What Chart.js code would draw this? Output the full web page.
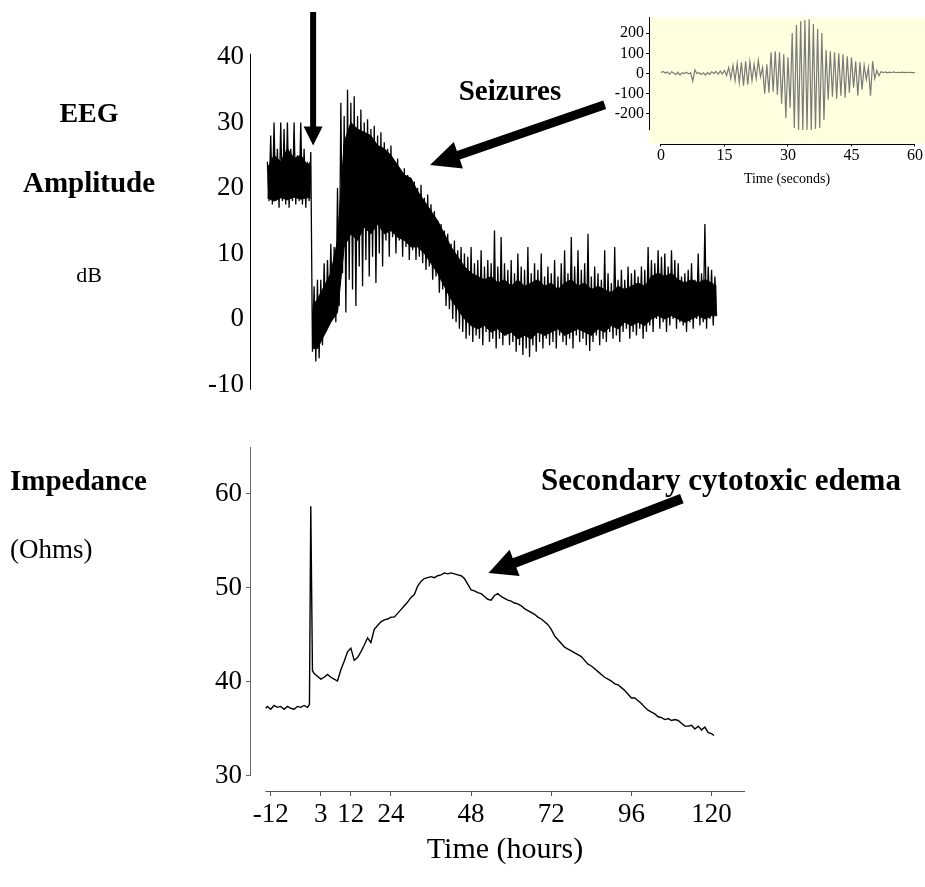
<!DOCTYPE html>
<html>
<head>
<meta charset="utf-8">
<script src="https://cdn.jsdelivr.net/npm/chart.js@4.4.0/dist/chart.umd.min.js"></script>
<style>
  html, body { margin: 0; padding: 0; background: #fff; }
  #wrap { position: relative; width: 925px; height: 887px; overflow: hidden; }
  .box { position: absolute; }
  #eegBox { left: 0; top: 0; width: 925px; height: 420px; }
  #impBox { left: 0; top: 420px; width: 925px; height: 467px; }
  #insetBox { left: 590px; top: 0; width: 335px; height: 200px; }
</style>
</head>
<body>
<div id="wrap">
  <div class="box" id="eegBox"><canvas id="eegChart"></canvas></div>
  <div class="box" id="impBox"><canvas id="impChart"></canvas></div>
  <div class="box" id="insetBox"><canvas id="insetChart"></canvas></div>
</div>
<script>
// ===============================
// Data
// ===============================
const hourTicks = [-12, 3, 12, 24, 48, 72, 96, 120];
const eegTicks = [-10, 0, 10, 20, 30, 40];
const impTicks = [30, 40, 50, 60];
const secTicks = [0, 15, 30, 45, 60];
const uvTicks = [-200, -100, 0, 100, 200];

// EEG amplitude (dB): spike tips above and below, one pair per hour from -13 h
const EEG_START = -13;
const INJECTION_HOUR = 0;
const eegHigh = [
  24, 28, 30, 26, 30, 29, 30, 26, 30, 25,
  30, 26, 24, 25.5, 5, 6, 6, 8.5, 9, 11.5,
  11, 20, 33, 31, 35, 33, 34, 31, 32, 30,
  30.5, 29, 29.5, 28, 28.5, 27, 26, 26.5, 24, 24.5,
  22.5, 23, 22, 21.5, 21, 20, 20.5, 18.5, 19, 17.5,
  16.5, 15, 14.5, 13.5, 13, 11.5, 12, 10.5, 11, 10,
  9.5, 11, 8.5, 9, 10.5, 8, 9, 8.5, 13.5, 8,
  12.5, 8.5, 7.5, 9, 7, 10, 8, 7.5, 11, 7,
  8.5, 7.5, 10, 6.5, 8, 7, 9, 6.5, 8.5, 10.5,
  7, 12.5, 8, 10.5, 7.5, 8.5, 13, 6.5, 8, 7,
  6, 10.5, 7, 5.5, 11, 6, 7.5, 6, 8, 7,
  7.5, 6.5, 8, 7.5, 11, 9, 8.5, 10.5, 9.5, 10,
  8, 10.5, 9, 8.5, 6.5, 7, 7.5, 8.5, 6, 10,
  7, 14.5, 8, 7.5, 6.5
];
const eegLow = [
  18, 17.5, 18, 17, 18, 17.5, 17, 18, 17.5, 18,
  17.5, 17, 18, -5, -6.5, -6, -4, -2, -0.5, 0,
  -0.5, 2, 7, 1, 6, 4.5, 2, 8, 5, 9,
  6.5, 9.5, 5.5, 10, 8, 12, 9.5, 12.5, 10, 12,
  9.5, 11, 9, 10.5, 9, 9.5, 8.5, 7.5, 8, 6,
  6.5, 4, 4.5, 2, 1.5, 0, -0.5, -1.5, -2, -3,
  -2.5, -3.5, -2.5, -3, -4, -2, -3.5, -3, -4.5, -3,
  -4, -2.5, -4, -3.5, -5, -4, -5.5, -4.5, -5.8, -4,
  -5, -3.5, -4.5, -3, -4, -3.5, -4.5, -2.5, -3.5, -4,
  -3, -4.5, -2.5, -3.5, -3, -4, -4.9, -3.5, -2.5, -4,
  -3, -3.5, -2, -3, -2.5, -3.5, -2, -1.5, -3, -2,
  -2.5, -1.5, -3, -2, -1, -2, 0, -1.5, -0.5, -2,
  -1, 0, -1.5, -0.5, -1, -2, -0.5, -1.5, 0, -1,
  -0.5, -1.5, 0, -1, 0.5
];

// dense body of the EEG trace (the solid black part)
const coreHoursPre = [-13, -11, -9, -7, -5, -3, -1, 0];
const coreHighPre = [23, 25, 24, 26, 24.5, 25, 23.5, 24];
const coreLowPre = [18.5, 18, 18.5, 18.2, 18.6, 18.3, 18.5, 18.5];
const coreHoursPost = [
  0.5, 2, 4, 6, 8, 10, 12, 14, 16, 18, 20, 22, 24, 26, 28, 30, 32, 34, 36, 38, 40,
  42, 44, 46, 48, 50, 52, 54, 56, 58, 60, 62, 64, 66, 68, 70, 72, 74, 76, 78, 80,
  82, 84, 86, 88, 90, 92, 94, 96, 98, 100, 102, 104, 106, 108, 110, 112, 114, 116, 118, 120, 121.5
];
const coreHighPost = [
  2, 3, 5, 7, 12, 27, 30, 29, 28.5, 28, 26.5, 26, 25, 23.5, 22, 21.5, 19.5, 18, 16.5, 15, 13,
  11, 9.5, 8, 7, 6.5, 6, 6.5, 5.5, 6, 5, 6, 5, 5.5, 6, 5, 5.5, 4.5, 5.5, 6, 5,
  5.5, 4.5, 5, 4.5, 4, 5, 4.5, 5, 5.5, 5, 6.5, 7, 6.5, 7, 6, 5.5, 6, 5.5, 6, 5.5, 5
];
const coreLowPost = [
  -4.5, -4.5, -2.5, -0.5, 1, 11, 13, 12, 14, 13, 14.5, 13, 13.5, 12.5, 12, 11, 11, 10, 8.5, 7, 5,
  3, 1.5, 0, -1, -1.5, -1, -2, -1.5, -2.5, -2, -3, -2.5, -3, -2, -2.5, -2, -1.5, -2.5, -2, -1.5,
  -2, -2.5, -1.5, -2, -1, -1.5, -0.5, -1, -0.5, -1, 0, 0.5, 0, 0.5, 0, -0.5, 0, 0.5, 0, 0.5, 0.5
];

// Impedance (Ohms)
const impHours = [
  -13.5, -13, -12, -11, -10, -9, -8, -7, -6, -5, -4, -3, -2, -1, -0.4, 0, 0.5,
  1, 2, 3, 4, 5, 6, 7, 8, 9, 10,
  11, 12, 13, 14, 15, 16, 17, 18, 19, 20,
  21, 22, 23, 24, 25, 26, 27, 28, 29, 30,
  31, 32, 33, 34, 35, 36, 37, 38, 39, 40,
  41, 42, 43, 44, 45, 46, 47, 48, 49, 50,
  51, 52, 53, 54, 55, 56, 57, 58, 59, 60,
  61, 62, 63, 64, 65, 66, 67, 68, 69, 70,
  71, 72, 73, 74, 75, 76, 77, 78, 79, 80,
  81, 82, 83, 84, 85, 86, 87, 88, 89, 90,
  91, 92, 93, 94, 95, 96, 97, 98, 99, 100,
  101, 102, 103, 104, 105, 106, 107, 108, 109, 110,
  111, 112, 113, 114, 115, 116, 117, 118, 119, 120, 120.7
];
const impValues = [
  37.2, 37.4, 37.1, 37.5, 37.3, 37.4, 37.1, 37.4, 37.2, 37.1, 37.4, 37.3, 37.5, 37.3, 37.6, 58.7, 41.2,
  40.9, 40.6, 40.3, 40.5, 40.8, 40.5, 40.3, 40.1, 41.3, 42.2,
  43.2, 43.6, 42.3, 42.6, 43.2, 43.9, 44.7, 44.2, 45.6, 46.0,
  46.4, 46.6, 46.7, 46.9, 46.9, 47.3, 47.7, 48.1, 48.5, 49.0,
  49.3, 50.2, 50.7, 51.0, 51.1, 51.2, 51.1, 51.3, 51.4, 51.6,
  51.5, 51.6, 51.5, 51.4, 51.3, 51.0, 50.4, 49.8, 49.7, 49.5,
  49.4, 49.1, 48.8, 48.7, 49.2, 49.4, 49.1, 48.9, 48.7, 48.6,
  48.4, 48.3, 48.1, 47.8, 47.6, 47.4, 47.2, 46.9, 46.7, 46.4,
  46.1, 45.6, 44.9, 44.5, 44.1, 43.7, 43.5, 43.3, 43.1, 42.9,
  42.7, 42.3, 41.9, 41.7, 41.4, 41.1, 40.8, 40.5, 40.3, 40.1,
  39.8, 39.7, 39.4, 39.1, 38.7, 38.3, 38.3, 38.0, 37.7, 37.3,
  37.0, 36.8, 36.6, 36.3, 36.2, 36.0, 36.1, 35.9, 36.0, 35.9,
  35.6, 35.3, 35.3, 35.4, 35.0, 35.3, 34.9, 35.2, 34.6, 34.5, 34.3
];

// Inset seizure trace, one value every 0.5 s
const SEC_STEP = 0.5;
const seizureValues = [
  5, 10, 2, 8, -3, 9, 2, -6, 6, -8,
  4, 0, 6, -2, 4, -38, 18, 0, 4, -5,
  3, -8, 4, -4, 8, 0, 10, -4, 12, -2,
  15, -10, 30, -25, 40, -35, 50, -45, 55, -60,
  60, -55, 58, -35, 45, -25, 65, -15, 30, -100,
  45, -95, 105, -90, 110, -105, 105, -150, 95, -220,
  80, -170, 200, -270, 240, -280, 258, -280, 265, -280,
  268, -280, 245, -275, 220, -270, 200, -230, 115, -130,
  110, -115, 105, -125, 100, -110, 95, -120, 85, -95,
  80, -70, 60, -110, 55, -80, 40, -30, 30, -110,
  60, -25, 15, -10, 10, 4, 8, 3, 7, 5,
  8, 4, 6, 5, 7, 4, 6, 5, 6, 4,
  5
];

// ===============================
// Helpers
// ===============================
const serif = '"Liberation Serif", "Times New Roman", serif';
Chart.defaults.font.family = serif;
Chart.defaults.color = '#000';

// zigzag between the spike tips
const eegPoints = [];
eegHigh.forEach((v, i) => {
  eegPoints.push({ x: EEG_START + i, y: v });
  eegPoints.push({ x: EEG_START + i + 0.5, y: eegLow[i] });
});

// body edges, broken at the injection
const gap = { x: INJECTION_HOUR + 0.25, y: null };
const coreHighPts = coreHoursPre.map((h, i) => ({ x: h, y: coreHighPre[i] }))
  .concat([gap], coreHoursPost.map((h, i) => ({ x: h, y: coreHighPost[i] })));
const coreLowPts = coreHoursPre.map((h, i) => ({ x: h, y: coreLowPre[i] }))
  .concat([gap], coreHoursPost.map((h, i) => ({ x: h, y: coreLowPost[i] })));

const impPoints = impHours.map((h, i) => ({ x: h, y: impValues[i] }));
const seizurePoints = seizureValues.map((v, i) => ({ x: i * SEC_STEP, y: v }));

function fixedTicks(list) {
  return (scale) => { scale.ticks = list.map(v => ({ value: v })); };
}

function drawArrow(ctx, from, to, shaft, headLen, headW) {
  const ang = Math.atan2(to[1] - from[1], to[0] - from[0]);
  const len = Math.hypot(to[0] - from[0], to[1] - from[1]);
  ctx.save();
  ctx.translate(from[0], from[1]);
  ctx.rotate(ang);
  ctx.beginPath();
  ctx.moveTo(0, -shaft / 2);
  ctx.lineTo(len - headLen, -shaft / 2);
  ctx.lineTo(len - headLen, -headW / 2);
  ctx.lineTo(len, 0);
  ctx.lineTo(len - headLen, headW / 2);
  ctx.lineTo(len - headLen, shaft / 2);
  ctx.lineTo(0, shaft / 2);
  ctx.closePath();
  ctx.fillStyle = '#000';
  ctx.fill();
  ctx.restore();
}

function text(ctx, str, x, y, font, align) {
  ctx.save();
  ctx.font = font;
  ctx.fillStyle = '#000';
  ctx.textAlign = align || 'center';
  ctx.textBaseline = 'alphabetic';
  ctx.fillText(str, x, y);
  ctx.restore();
}

function line(ctx, x1, y1, x2, y2, color, width) {
  ctx.save();
  ctx.strokeStyle = color;
  ctx.lineWidth = width;
  ctx.beginPath();
  ctx.moveTo(x1, y1);
  ctx.lineTo(x2, y2);
  ctx.stroke();
  ctx.restore();
}

// shared hour axis so both panels line up
const X_MIN = -18.2, X_MAX = 134.5;
const AXIS_W = 250;
const RIGHT_PAD = 165;

// ===============================
// EEG panel
// ===============================
const eegDecor = {
  id: 'eegDecor',
  afterDraw(chart) {
    const { ctx, chartArea, scales: { x, y } } = chart;
    const ax = Math.round(chartArea.left) + 0.5;
    line(ctx, ax, y.getPixelForValue(40.5), ax, y.getPixelForValue(-10.8), '#000', 1);

    text(ctx, 'EEG', 89, 122, 'bold 28px ' + serif);
    text(ctx, 'Amplitude', 89, 192, 'bold 29px ' + serif);
    text(ctx, 'dB', 89, 282, '22px ' + serif);

    // injection arrow
    const ix = x.getPixelForValue(0.7);
    drawArrow(ctx, [ix, 12], [ix, y.getPixelForValue(26.5)], 6, 19, 19);

    // seizures arrow
    drawArrow(ctx,
      [x.getPixelForValue(88), y.getPixelForValue(32.7)],
      [x.getPixelForValue(35.7), y.getPixelForValue(23.5)], 9, 30, 28);
    text(ctx, 'Seizures', 510, 100, 'bold 29px ' + serif);
  }
};

new Chart(document.getElementById('eegChart'), {
  type: 'line',
  data: {
    datasets: [
      {
        data: eegPoints,
        borderColor: '#000',
        borderWidth: 1.3,
        pointRadius: 0,
        tension: 0,
        fill: false
      },
      {
        data: coreHighPts,
        borderColor: '#000',
        borderWidth: 1,
        pointRadius: 0,
        tension: 0,
        spanGaps: false,
        fill: false
      },
      {
        data: coreLowPts,
        borderColor: '#000',
        backgroundColor: '#000',
        borderWidth: 1,
        pointRadius: 0,
        tension: 0,
        spanGaps: false,
        fill: '-1'
      }
    ]
  },
  options: {
    responsive: true,
    maintainAspectRatio: false,
    animation: false,
    parsing: false,
    layout: { padding: { top: 30.8, bottom: 22.4, left: 0, right: RIGHT_PAD } },
    plugins: { legend: { display: false }, tooltip: { enabled: false } },
    scales: {
      x: { type: 'linear', min: X_MIN, max: X_MAX, display: false },
      y: {
        type: 'linear',
        min: -12,
        max: 44,
        afterFit: (s) => { s.width = AXIS_W; },
        afterBuildTicks: fixedTicks(eegTicks),
        border: { display: false },
        grid: { drawOnChartArea: false, drawTicks: false },
        ticks: { font: { size: 27 }, padding: 6, callback: v => String(v) }
      }
    }
  },
  plugins: [eegDecor]
});

// ===============================
// Impedance panel
// ===============================
const impDecor = {
  id: 'impDecor',
  afterDraw(chart) {
    const { ctx, chartArea, scales: { x, y } } = chart;
    const ax = Math.round(chartArea.left) + 0.5;
    line(ctx, ax, y.getPixelForValue(30), ax, y.getPixelForValue(65), '#666', 1);
    const by = Math.round(chartArea.bottom) + 0.5;
    line(ctx, x.getPixelForValue(-13.6), by, x.getPixelForValue(130), by, '#555', 1);

    text(ctx, 'Impedance', 10, 70, 'bold 29px ' + serif, 'left');
    text(ctx, '(Ohms)', 10, 138, '27px ' + serif, 'left');

    drawArrow(ctx,
      [x.getPixelForValue(111.1), y.getPixelForValue(59.5)],
      [x.getPixelForValue(53.2), y.getPixelForValue(51.6)], 10, 28, 28);
    text(ctx, 'Secondary cytotoxic edema', 721, 70, 'bold 31px ' + serif);
  }
};

new Chart(document.getElementById('impChart'), {
  type: 'line',
  data: {
    datasets: [{
      data: impPoints,
      borderColor: '#000',
      borderWidth: 1.4,
      pointRadius: 0,
      tension: 0,
      fill: false
    }]
  },
  options: {
    responsive: true,
    maintainAspectRatio: false,
    animation: false,
    parsing: false,
    layout: { padding: { top: 25.1, bottom: 0, left: 0, right: RIGHT_PAD } },
    plugins: { legend: { display: false }, tooltip: { enabled: false } },
    scales: {
      x: {
        type: 'linear',
        min: X_MIN,
        max: X_MAX,
        afterFit: (s) => { s.height = 96; },
        afterBuildTicks: fixedTicks(hourTicks),
        border: { display: false },
        grid: { drawOnChartArea: false, drawTicks: true, tickLength: 5, color: '#555' },
        ticks: { font: { size: 27 }, padding: 3, maxRotation: 0, autoSkip: false, callback: v => String(v) },
        title: { display: true, text: 'Time (hours)', font: { size: 30 }, padding: { top: 0, bottom: 19 } }
      },
      y: {
        type: 'linear',
        min: 28.4,
        max: 65.2,
        afterFit: (s) => { s.width = AXIS_W; },
        afterBuildTicks: fixedTicks(impTicks),
        border: { display: false },
        grid: { drawOnChartArea: false, drawTicks: true, tickLength: 4, color: '#666' },
        ticks: { font: { size: 27 }, padding: 4, callback: v => String(v) }
      }
    }
  },
  plugins: [impDecor]
});

// ===============================
// Inset: seizure trace
// ===============================
const insetDecor = {
  id: 'insetDecor',
  beforeDraw(chart) {
    const { ctx, chartArea: a } = chart;
    ctx.save();
    ctx.fillStyle = '#FFFFE0';
    ctx.fillRect(a.left, a.top, a.right - a.left, a.bottom - a.top);
    ctx.restore();
  },
  afterDraw(chart) {
    const { ctx, chartArea, scales: { x, y } } = chart;
    const ax = Math.round(chartArea.left) + 0.5;
    line(ctx, ax, y.getPixelForValue(280), ax, y.getPixelForValue(-280), '#000', 1);
    const by = Math.round(chartArea.bottom) + 0.5;
    line(ctx, x.getPixelForValue(0), by, x.getPixelForValue(60), by, '#000', 1);
  }
};

new Chart(document.getElementById('insetChart'), {
  type: 'line',
  data: {
    datasets: [{
      data: seizurePoints,
      borderColor: '#7a7a7a',
      borderWidth: 1.2,
      pointRadius: 0,
      tension: 0,
      fill: false
    }]
  },
  options: {
    responsive: true,
    maintainAspectRatio: false,
    animation: false,
    parsing: false,
    layout: { padding: { top: 17.5, bottom: 0, left: 0, right: 0 } },
    plugins: { legend: { display: false }, tooltip: { enabled: false } },
    scales: {
      x: {
        type: 'linear',
        min: -2.83,
        max: 62.37,
        afterFit: (s) => { s.height = 56.5; },
        afterBuildTicks: fixedTicks(secTicks),
        border: { display: false },
        grid: { drawOnChartArea: false, drawTicks: true, tickLength: 3, color: '#000' },
        ticks: { font: { size: 16 }, padding: 0, maxRotation: 0, autoSkip: false, callback: v => String(v) },
        title: { display: true, text: 'Time (seconds)', font: { size: 14 }, padding: { top: 0, bottom: 12 } }
      },
      y: {
        type: 'linear',
        min: -346.5,
        max: 277.2,
        afterFit: (s) => { s.width = 59; },
        afterBuildTicks: fixedTicks(uvTicks),
        border: { display: false },
        grid: { drawOnChartArea: false, drawTicks: true, tickLength: 3, color: '#000' },
        ticks: { font: { size: 16 }, padding: 2, callback: v => String(v) }
      }
    }
  },
  plugins: [insetDecor]
});
</script>
</body>
</html>
